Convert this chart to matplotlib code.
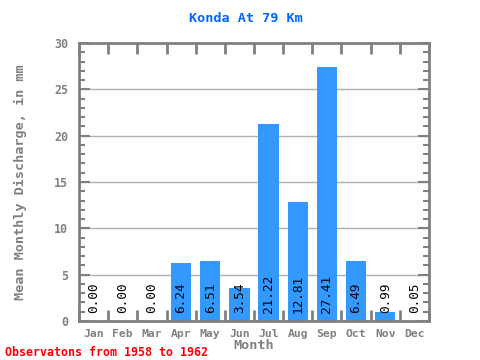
import matplotlib
matplotlib.use("Agg")
import matplotlib.pyplot as plt
from matplotlib.ticker import MultipleLocator, FixedLocator

months = ["Jan", "Feb", "Mar", "Apr", "May", "Jun", "Jul", "Aug", "Sep", "Oct", "Nov", "Dec"]
values = [0.00, 0.00, 0.00, 6.24, 6.51, 3.54, 21.22, 12.81, 27.41, 6.49, 0.99, 0.05]
labels = ["0.00", "0.00", "0.00", "6.24", "6.51", "3.54", "21.22", "12.81", "27.41", "6.49", "0.99", "0.05"]
title = "Konda At 79 Km"
footer = "Observatons from 1958 to 1962"

mono = "DejaVu Sans Mono"
gray = "#808080"

fig = plt.figure(figsize=(4.8, 3.6), dpi=100)
ax = fig.add_axes([79/480, 1-321/360, 350/480, 278/360])

x = list(range(len(months)))
ax.bar(x, values, width=0.7, color="#3399FF", zorder=2)
for xi, lab in zip(x, labels):
    ax.annotate(lab, (xi, 0), xytext=(0, 6), textcoords="offset points",
                rotation=90, ha="center", va="bottom", fontsize=9.2,
                family=mono, color="black", zorder=3)

ax.set_xlim(-0.5, 11.5)
ax.set_ylim(0, 30)
ax.yaxis.set_major_locator(MultipleLocator(5))
ax.yaxis.set_minor_locator(MultipleLocator(1))
ax.grid(axis="y", which="major", color="#b0b0b0", linewidth=1, zorder=0)
ax.set_axisbelow(True)

ax.set_xticks(x)
ax.set_xticklabels(months)
ax.xaxis.set_minor_locator(FixedLocator([i + 0.5 for i in range(-1, 12)]))
ax.tick_params(axis="x", which="major", length=0, pad=6)
ax.tick_params(axis="x", which="minor", length=8, width=2, color=gray,
               direction="in", top=True, bottom=True)
ax.tick_params(axis="y", which="major", length=8, width=1.5, color=gray,
               direction="in", left=True, right=True, pad=8)
ax.tick_params(axis="y", which="minor", length=4, width=1.5, color=gray,
               direction="in", left=True, right=True)

for lab in ax.get_xticklabels():
    lab.set_family(mono)
    lab.set_fontweight("bold")
    lab.set_color(gray)
    lab.set_fontsize(8.2)
for lab in ax.get_yticklabels():
    lab.set_family(mono)
    lab.set_fontweight("bold")
    lab.set_color(gray)
    lab.set_fontsize(8.4)

for s in ax.spines.values():
    s.set_color(gray)
    s.set_linewidth(2)

ax.set_xlabel("Month", family=mono, fontweight="bold", color=gray, fontsize=9.7, labelpad=0)
ax.set_ylabel("Mean Monthly Discharge, in mm", family=mono, fontweight="bold",
              color=gray, fontsize=9.7, labelpad=19)
fig.text(0.5 + 6/480, 1 - 18/360, title, family=mono, fontweight="bold",
         color="#0066FF", fontsize=9.7, ha="center", va="center")
fig.text(5/480, 1 - 352/360, footer, family=mono, fontweight="bold",
         color="red", fontsize=8.4, ha="left", va="center")

fig.savefig("out.png", dpi=100)
